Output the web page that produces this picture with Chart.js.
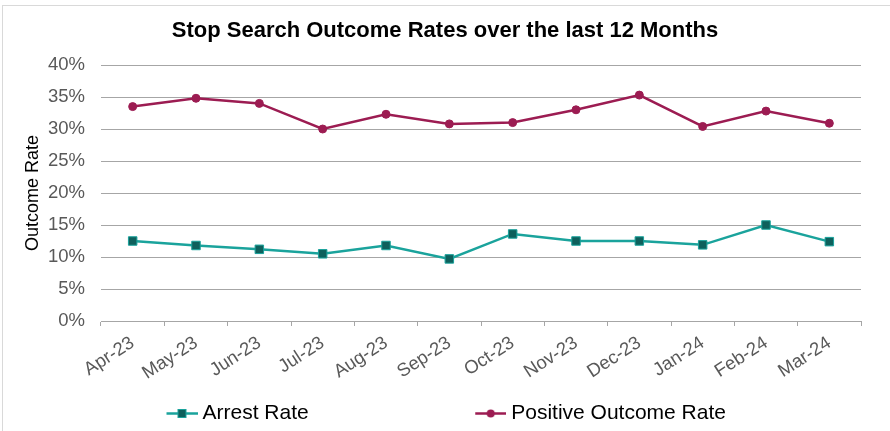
<!DOCTYPE html>
<html>
<head>
<meta charset="utf-8">
<script src="https://cdn.jsdelivr.net/npm/chart.js@4.4.1/dist/chart.umd.min.js"></script>
<style>
  html, body { margin: 0; padding: 0; background: #ffffff; overflow: hidden; }
  #wrap { position: relative; width: 890px; height: 431px; }
  #frame { position: absolute; left: 2px; top: 5px; width: 900px; height: 440px; border: 1px solid #d9d9d9; box-sizing: border-box; }
  canvas { position: absolute; left: 0; top: 0; }
</style>
</head>
<body>
<div id="wrap">
  <div id="frame"></div>
  <canvas id="c" width="890" height="431"></canvas>
</div>
<script>
// ---- data ----
const months = ['Apr-23','May-23','Jun-23','Jul-23','Aug-23','Sep-23','Oct-23','Nov-23','Dec-23','Jan-24','Feb-24','Mar-24'];
const arrestRate = [12.5, 11.8, 11.2, 10.5, 11.8, 9.7, 13.6, 12.5, 12.5, 11.9, 15.0, 12.4];
const positiveOutcomeRate = [33.5, 34.8, 34.0, 30.0, 32.3, 30.8, 31.0, 33.0, 35.3, 30.4, 32.8, 30.9];
const seriesNames = ['Arrest Rate', 'Positive Outcome Rate'];
const chartTitle = 'Stop Search Outcome Rates over the last 12 Months';
const yAxisTitle = 'Outcome Rate';

// ---- styles ----
const TEAL = '#1aa39c';
const TEAL_DARK = '#0e605c';
const MAROON = '#9c1c52';
const GRID = '#a6a6a6';
const TICK_TXT = '#595959';
const FONT = "'Liberation Sans', Arial, sans-serif";

// legend markers (line + point) as images
const LEG_BOX = 184;
function legendImage(kind) {
  const c = document.createElement('canvas');
  c.width = LEG_BOX + 11; c.height = 21;
  const g = c.getContext('2d');
  const x0 = c.width - 31, x1 = c.width, ym = 10.5;
  g.lineWidth = 2.5;
  if (kind === 'rect') {
    g.strokeStyle = TEAL;
    g.beginPath(); g.moveTo(x0, ym); g.lineTo(x1, ym); g.stroke();
    g.fillStyle = TEAL_DARK; g.fillRect(x0 + 11.5, ym - 4, 8, 8);
    g.lineWidth = 1; g.strokeStyle = TEAL; g.strokeRect(x0 + 11.5, ym - 4, 8, 8);
  } else {
    g.strokeStyle = MAROON;
    g.beginPath(); g.moveTo(x0, ym); g.lineTo(x1, ym); g.stroke();
    g.fillStyle = MAROON; g.beginPath(); g.arc(x0 + 15.5, ym, 4, 0, Math.PI * 2); g.fill();
  }
  return c;
}
const legendImgs = [legendImage('rect'), legendImage('circle')];

new Chart(document.getElementById('c'), {
  type: 'line',
  data: {
    labels: months,
    datasets: [
      {
        label: seriesNames[0],
        data: arrestRate,
        borderColor: TEAL,
        borderWidth: 2.5,
        backgroundColor: TEAL_DARK,
        pointStyle: 'rect',
        pointRadius: 6,
        pointBackgroundColor: TEAL_DARK,
        pointBorderColor: TEAL,
        pointBorderWidth: 1,
        tension: 0
      },
      {
        label: seriesNames[1],
        data: positiveOutcomeRate,
        borderColor: MAROON,
        borderWidth: 2.5,
        backgroundColor: MAROON,
        pointStyle: 'circle',
        pointRadius: 4,
        pointBackgroundColor: MAROON,
        pointBorderColor: MAROON,
        pointBorderWidth: 1,
        tension: 0
      }
    ]
  },
  options: {
    responsive: false,
    animation: false,
    devicePixelRatio: 1,
    layout: { padding: { left: 0, right: 0, top: 0, bottom: -3 } },
    plugins: {
      tooltip: { enabled: false },
      title: {
        display: true,
        text: chartTitle,
        color: '#000000',
        font: { family: FONT, size: 22, weight: 'bold', lineHeight: 1.2 },
        padding: { top: 17.8, bottom: 20.8 }
      },
      legend: {
        display: true,
        position: 'bottom',
        align: 'start',
        labels: {
          usePointStyle: true,
          pointStyleWidth: LEG_BOX,
          padding: 8,
          color: '#000000',
          font: { family: FONT, size: 21 },
          generateLabels: (chart) => chart.data.datasets.map((ds, i) => ({
            text: ds.label,
            pointStyle: legendImgs[i],
            fillStyle: ds.borderColor,
            strokeStyle: ds.borderColor,
            lineWidth: 0,
            fontColor: '#000000',
            hidden: false,
            datasetIndex: i
          }))
        }
      }
    },
    scales: {
      x: {
        offset: true,
        grid: { offset: true, drawOnChartArea: false, drawTicks: true, tickLength: 5, color: GRID, lineWidth: 1 },
        border: { display: true, color: GRID, width: 1 },
        ticks: {
          autoSkip: false,
          maxRotation: 33, minRotation: 33,
          color: TICK_TXT,
          padding: 6,
          font: { family: FONT, size: 18.5 }
        },
        afterFit: (s) => { s.height = 74; }
      },
      y: {
        min: 0, max: 40,
        grid: { drawTicks: false, color: GRID, lineWidth: 1 },
        border: { display: false },
        ticks: {
          stepSize: 5,
          color: TICK_TXT,
          padding: 16,
          font: { family: FONT, size: 18.5 },
          callback: (v) => v + '%'
        },
        title: {
          display: true,
          text: yAxisTitle,
          color: '#000000',
          font: { family: FONT, size: 18, lineHeight: 1.2 },
          padding: { top: 22, bottom: 0 }
        },
        afterFit: (s) => { s.width = 101; }
      },
      yRightSpace: {
        position: 'right',
        display: true,
        grid: { display: false, drawOnChartArea: false },
        border: { display: false },
        ticks: { display: false },
        afterFit: (s) => { s.width = 29; }
      }
    }
  }
});
</script>
</body>
</html>
